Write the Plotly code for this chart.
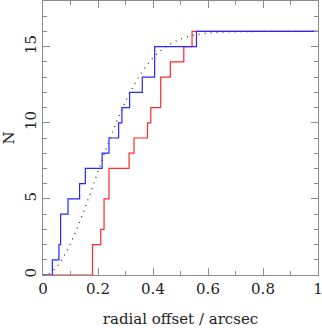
import plotly.graph_objects as go

# Blue cumulative step data: x positions of steps and N after each step
blue_x = [0.0, 0.034, 0.058, 0.064, 0.091, 0.133, 0.154, 0.215, 0.240, 0.275, 0.287, 0.315, 0.361, 0.406, 0.558, 1.0]
blue_n = [0, 1, 2, 4, 5, 6, 7, 8, 9, 10, 11, 12, 13, 15, 16, 16]

# Red cumulative step data
red_x = [0.0, 0.180, 0.210, 0.222, 0.240, 0.313, 0.331, 0.380, 0.392, 0.428, 0.463, 0.512, 0.542, 1.0]
red_n = [0, 2, 3, 5, 7, 8, 9, 10, 11, 13, 14, 15, 16, 16]

# Dotted model curve
model_x = [0.0, 0.02, 0.04, 0.06, 0.08, 0.10, 0.12, 0.14, 0.16, 0.18, 0.20, 0.22, 0.24, 0.26, 0.28,
           0.30, 0.32, 0.34, 0.36, 0.38, 0.40, 0.42, 0.44, 0.46, 0.48, 0.50, 0.55, 0.60, 0.65, 0.70, 0.80, 1.0]
model_n = [0.0, 0.09, 0.35, 0.78, 1.36, 2.07, 2.89, 3.80, 4.78, 5.79, 6.80, 7.81, 8.79, 9.73, 10.60,
           11.40, 12.12, 12.77, 13.34, 13.84, 14.26, 14.61, 14.90, 15.15, 15.34, 15.50, 15.76, 15.89, 15.95, 15.98, 16.0, 16.0]

x_ticks = [0, 0.2, 0.4, 0.6, 0.8, 1]
x_tick_text = ["0", "0.2", "0.4", "0.6", "0.8", "1"]
y_ticks = [0, 5, 10, 15]
y_tick_text = ["0", "5", "10", "15"]

FONT = "DejaVu Serif"
AXC = "#8c8c8c"
TXT = "#222222"

fig = go.Figure()
fig.add_trace(go.Scatter(x=model_x, y=model_n, mode="lines",
                         line=dict(color="#333333", width=1.3, dash="1px,5px", shape="spline")))
fig.add_trace(go.Scatter(x=red_x, y=red_n, mode="lines",
                         line=dict(color="#ff2a2a", width=1.2, shape="hv")))
fig.add_trace(go.Scatter(x=blue_x, y=blue_n, mode="lines",
                         line=dict(color="#2828ff", width=1.2, shape="hv")))

axis_common = dict(showgrid=False, zeroline=False, showline=True, linecolor=AXC, linewidth=1.3,
                   mirror="ticks", ticks="inside", ticklen=7, tickcolor=AXC, tickwidth=1.3,
                   automargin=False, ticklabeloverflow="allow",
                   tickfont=dict(family=FONT, size=15, color=TXT))

fig.update_xaxes(range=[0, 1], tickvals=x_ticks, ticktext=x_tick_text,
                 minor=dict(dtick=0.1, tick0=0, ticks="inside", ticklen=4, tickcolor=AXC, tickwidth=1.3),
                 title=dict(text="radial offset / arcsec", font=dict(family=FONT, size=15, color=TXT), standoff=16),
                 **axis_common)
fig.update_yaxes(range=[0, 18], tickvals=y_ticks, ticktext=y_tick_text, tickangle=-90,
                 minor=dict(dtick=1, tick0=0, ticks="inside", ticklen=4, tickcolor=AXC, tickwidth=1.3),
                 title=dict(text="N", font=dict(family=FONT, size=15, color=TXT), standoff=6),
                 **axis_common)

fig.update_layout(width=322, height=328, margin=dict(l=43, r=4, t=1, b=53),
                  plot_bgcolor="white", paper_bgcolor="white", showlegend=False)

fig.write_html("out.html", config={"displayModeBar": False},
               post_script="document.body.style.margin='0';")
